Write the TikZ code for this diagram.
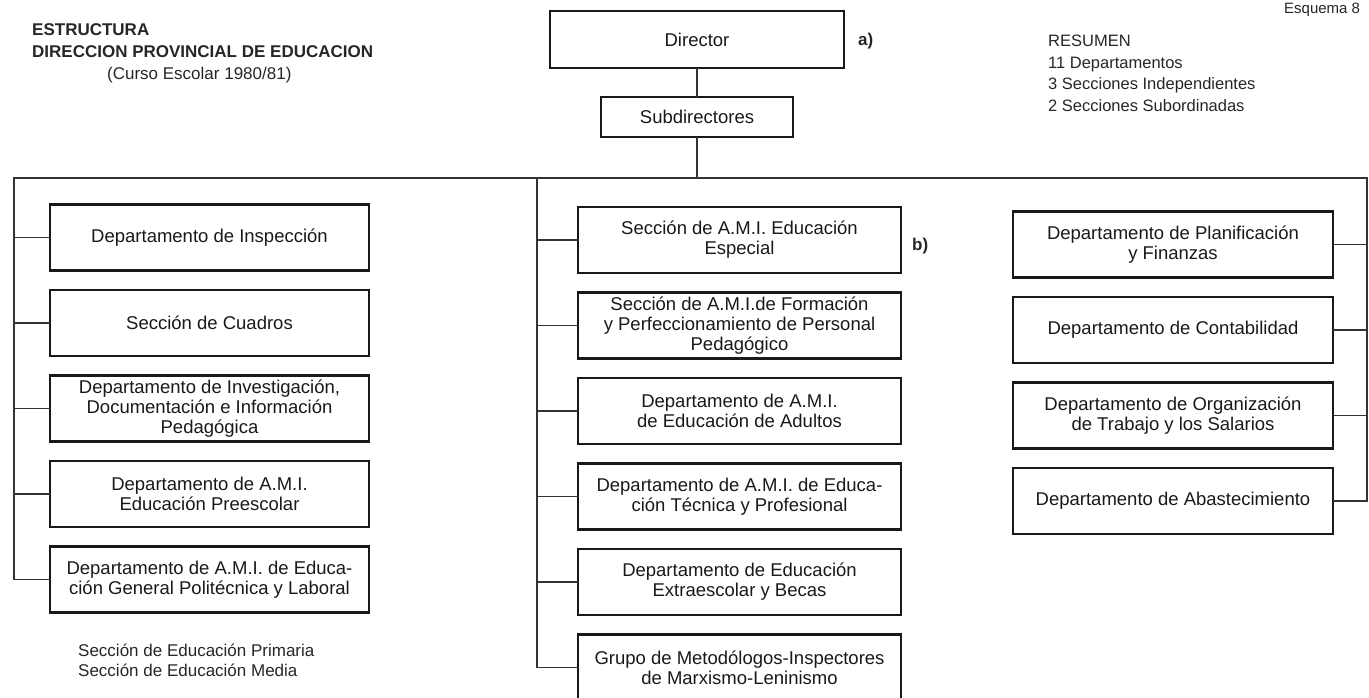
\documentclass[tikz,border=0pt]{standalone}
\usepackage{fontspec}
\setmainfont{Liberation Sans}
\usetikzlibrary{positioning}

\begin{document}
\begin{tikzpicture}[
    x=1pt, y=-1pt,
    node distance=19.5pt,
    obox/.style={rectangle, draw=black!90, line width=2.8pt, outer sep=0pt, inner sep=0pt, minimum width=320pt, minimum height=66pt, align=center, text=black!90, font=\fontsize{18.5}{20}\selectfont},
    oline/.style={line width=1.3pt, black!80},
    otext/.style={anchor=base west, inner sep=0pt, align=left, text=black!85, font=\fontsize{17}{20}\selectfont}
]
\useasboundingbox (0,0) rectangle (1369,697);

\node[otext, font=\bfseries\fontsize{17}{22}\selectfont] (title) at (32,57) {ESTRUCTURA\\DIRECCION PROVINCIAL DE EDUCACION};
\node[otext] (curso) at (107,79) {(Curso Escolar 1980/81)};
\node[otext, font=\fontsize{15}{18}\selectfont] (esquema) at (1284,13) {Esquema 8};
\node[otext, font=\fontsize{16.5}{21.5}\selectfont] (resumen) at (1048,111) {RESUMEN\\11 Departamentos\\3 Secciones Independientes\\2 Secciones Subordinadas};

\node[obox, minimum width=294pt, minimum height=57pt] (dir) at (697,39.5) {Director};
\node[otext, font=\bfseries\fontsize{17}{20}\selectfont] (la) at (858,45) {a)};
\node[obox, minimum width=192pt, minimum height=40pt] (sub) at (697,117) {Subdirectores};

\coordinate (lt) at (14,178);
\coordinate (mt) at (537,178);
\coordinate (rt) at (1367,178);

\node[obox, minimum width=319pt] (l1) at (209.5,237.5) {Departamento de Inspección};
\node[obox, minimum width=319pt, below=of l1] (l2) {Sección de Cuadros};
\node[obox, minimum width=319pt, below=of l2] (l3) {Departamento de Investigación,\\Documentación e Información\\Pedagógica};
\node[obox, minimum width=319pt, below=of l3] (l4) {Departamento de A.M.I.\\Educación Preescolar};
\node[obox, minimum width=319pt, below=of l4] (l5) {Departamento de A.M.I. de Educa-\\ción General Politécnica y Laboral};
\node[otext] (secc) at (78,676) {Sección de Educación Primaria\\Sección de Educación Media};

\node[obox, minimum width=323pt] (m1) at (739.5,240) {Sección de A.M.I. Educación\\Especial};
\node[otext, font=\bfseries\fontsize{17}{20}\selectfont] (lb) at (912,250) {b)};
\node[obox, minimum width=323pt, below=of m1] (m2) {Sección de A.M.I.de Formación\\y Perfeccionamiento de Personal\\Pedagógico};
\node[obox, minimum width=323pt, below=of m2] (m3) {Departamento de A.M.I.\\de Educación de Adultos};
\node[obox, minimum width=323pt, below=of m3] (m4) {Departamento de A.M.I. de Educa-\\ción Técnica y Profesional};
\node[obox, minimum width=323pt, below=of m4] (m5) {Departamento de Educación\\Extraescolar y Becas};
\node[obox, minimum width=323pt, below=of m5] (m6) {Grupo de Metodólogos-Inspectores\\de Marxismo-Leninismo};

\node[obox] (r1) at (1173,244.5) {Departamento de Planificación\\y Finanzas};
\node[obox, below=of r1] (r2) {Departamento de Contabilidad};
\node[obox, below=of r2] (r3) {Departamento de Organización\\de Trabajo y los Salarios};
\node[obox, below=of r3] (r4) {Departamento de Abastecimiento};

\draw[oline] (dir) -- (sub);
\draw[oline] (sub) -- (sub |- lt);
\draw[oline] (l5.west) -| (lt) -- (rt) |- (r4.east);
\draw[oline] (mt) |- (m6.west);
\foreach \n in {l1,l2,l3,l4} \draw[oline] (\n.west) -- (\n.west -| lt);
\foreach \n in {m1,m2,m3,m4,m5} \draw[oline] (\n.west) -- (\n.west -| mt);
\foreach \n in {r1,r2,r3} \draw[oline] (\n.east) -- (\n.east -| rt);
\end{tikzpicture}
\end{document}
